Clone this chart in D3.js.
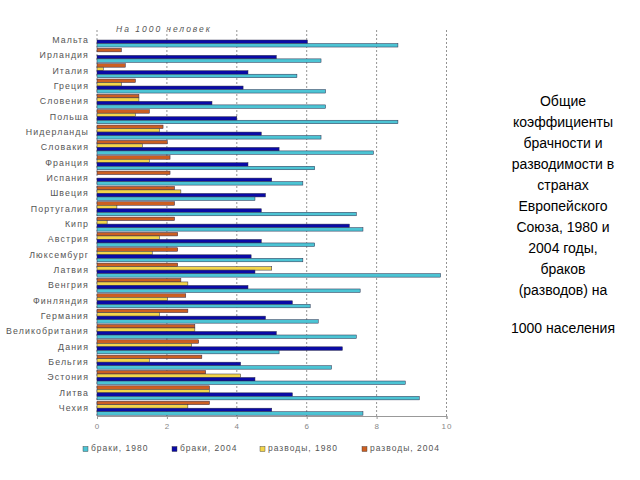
<!DOCTYPE html>
<html>
<head>
<meta charset="utf-8">
<script src="https://cdn.jsdelivr.net/npm/d3@7"></script>
<style>
  html, body { margin: 0; padding: 0; background: #fff; }
  svg { display: block; }
</style>
</head>
<body>
<svg id="chart" width="640" height="480"></svg>
<script>
const countries = ["Мальта","Ирландия","Италия","Греция","Словения","Польша","Нидерланды","Словакия","Франция","Испания","Швеция","Португалия","Кипр","Австрия","Люксембург","Латвия","Венгрия","Финляндия","Германия","Великобритания","Дания","Бельгия","Эстония","Литва","Чехия"];
const divorces2004 = [0,0.70,0.81,1.10,1.20,1.50,1.89,2.01,2.09,2.09,2.22,2.22,2.22,2.31,2.31,2.31,2.40,2.54,2.60,2.80,2.91,3.00,3.11,3.22,3.22];
const divorces1980 = [0,0,0.18,0.70,1.20,1.10,1.79,1.30,1.50,0,2.40,0.57,0.29,1.79,1.58,5.00,2.60,2.01,1.79,2.80,2.71,1.50,4.11,3.22,2.60];
const marriages2004 = [6.02,5.13,4.32,4.18,3.29,4.00,4.70,5.21,4.32,5.00,4.82,4.70,7.22,4.70,4.41,4.52,4.32,5.59,4.82,5.13,7.02,4.11,4.52,5.59,5.00];
const marriages1980 = [8.61,6.41,5.72,6.54,6.54,8.61,6.41,7.91,6.23,5.89,4.52,7.42,7.61,6.23,5.89,9.83,7.53,6.10,6.33,7.42,5.21,6.71,8.82,9.22,7.61];
const xTicks = [0,2,4,6,8,10];
const seriesNames = ["разводы, 2004","разводы, 1980","браки, 2004","браки, 1980"];
const legendOrder = ["браки, 1980","браки, 2004","разводы, 1980","разводы, 2004"];
const unitLabel = "На 1000 человек";
const titleLines = ["Общие","коэффициенты","брачности и","разводимости в","странах","Европейского","Союза, 1980 и","2004 годы,","браков","(разводов) на"];
const titleLast = "1000 населения";

const seriesData = {
  "разводы, 2004": divorces2004,
  "разводы, 1980": divorces1980,
  "браки, 2004": marriages2004,
  "браки, 1980": marriages1980
};
const colors = {
  "браки, 1980": "#4cc4d4",
  "браки, 2004": "#0a0aa6",
  "разводы, 1980": "#f3d54a",
  "разводы, 2004": "#cc5f22"
};

const svg = d3.select("#chart");
const x = d3.scaleLinear().domain([0, 10]).range([97, 446.5]);
const y = d3.scaleBand().domain(countries).range([33, 416.5]).paddingInner(0).paddingOuter(0);
const sub = d3.scaleBand().domain(seriesNames).range([0, y.bandwidth() - 1.3]);

// gridlines
svg.append("g").selectAll("line").data(xTicks).join("line")
  .attr("x1", d => x(d)).attr("x2", d => x(d))
  .attr("y1", 30).attr("y2", 416)
  .attr("stroke", "#777").attr("stroke-width", 0.8)
  .attr("stroke-dasharray", "2,2");

// bars
const groups = svg.append("g").selectAll("g").data(countries).join("g")
  .attr("transform", d => `translate(0,${y(d)})`);
groups.each(function(c, i) {
  const g = d3.select(this);
  seriesNames.forEach(s => {
    const v = seriesData[s][i];
    if (v <= 0) return;
    g.append("rect")
      .attr("x", x(0))
      .attr("y", sub(s))
      .attr("width", x(v) - x(0))
      .attr("height", sub.bandwidth())
      .attr("fill", colors[s])
      .attr("stroke", "#2a2a4a")
      .attr("stroke-width", 0.5);
  });
});

// axis
const axis = d3.axisBottom(x).tickValues(xTicks).tickSize(3).tickFormat(d3.format("d"));
const ax = svg.append("g").attr("transform", "translate(0,416)").call(axis);
ax.select(".domain").attr("stroke", "#999");
ax.selectAll(".tick line").attr("stroke", "#999");
ax.selectAll(".tick text").attr("fill", "#888").attr("font-size", 8)
  .attr("font-family", "Liberation Sans, Arial, sans-serif").attr("dy", "0.9em")
  .style("letter-spacing", "1px");

// country labels
svg.append("g").selectAll("text").data(countries).join("text")
  .attr("x", 89)
  .attr("y", d => y(d) + y.bandwidth() / 2)
  .attr("text-anchor", "end")
  .attr("dominant-baseline", "middle")
  .attr("font-family", "Liberation Sans, Arial, sans-serif")
  .attr("font-size", 8.8)
  .style("letter-spacing", "1.1px")
  .attr("fill", "#555")
  .text(d => d);

// unit label
svg.append("text")
  .attr("x", 116).attr("y", 32)
  .attr("font-family", "Liberation Sans, Arial, sans-serif")
  .attr("font-size", 8.5).attr("font-style", "italic")
  .style("letter-spacing", "2px")
  .attr("fill", "#555")
  .text(unitLabel);

// legend
const legendX = [83, 172, 260, 362];
const lg = svg.append("g").selectAll("g").data(legendOrder).join("g")
  .attr("transform", (d, i) => `translate(${legendX[i]},449)`);
lg.append("rect").attr("x", 0).attr("y", -2.5).attr("width", 5).attr("height", 5)
  .attr("fill", d => colors[d]).attr("stroke", "#333").attr("stroke-width", 0.4);
lg.append("text").attr("x", 8).attr("y", 0)
  .attr("dominant-baseline", "middle")
  .attr("font-family", "Liberation Sans, Arial, sans-serif")
  .attr("font-size", 8.5)
  .style("letter-spacing", "1px")
  .attr("fill", "#555")
  .text(d => d);

// title on the right
const tt = svg.append("text")
  .attr("text-anchor", "middle")
  .attr("font-family", "Liberation Sans, Arial, sans-serif")
  .attr("font-size", 14)
  .attr("fill", "#000");
titleLines.forEach((l, i) => {
  tt.append("tspan").attr("x", 563).attr("y", 106 + i * 21).text(l);
});
svg.append("text")
  .attr("x", 563).attr("y", 333)
  .attr("text-anchor", "middle")
  .attr("font-family", "Liberation Sans, Arial, sans-serif")
  .attr("font-size", 14)
  .attr("fill", "#000")
  .text(titleLast);
</script>
</body>
</html>
